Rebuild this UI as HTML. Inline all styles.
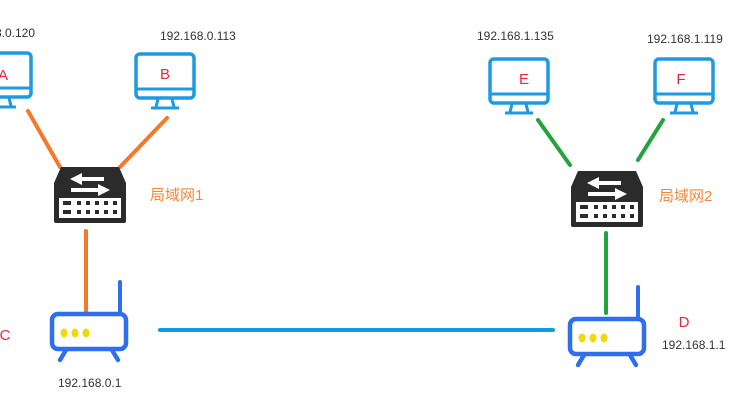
<!DOCTYPE html>
<html><head><meta charset="utf-8"><style>
body{margin:0;background:#fff;width:750px;height:410px;overflow:hidden}
</style></head><body>
<svg width="750" height="410" xmlns="http://www.w3.org/2000/svg" font-family="Liberation Sans, Noto Sans CJK SC, sans-serif">
<defs>
<g id="mon">
<rect x="2" y="2" width="58" height="44" rx="4" fill="#fff" stroke="#1e9be0" stroke-width="3.5"/>
<line x1="2" y1="37" x2="60" y2="37" stroke="#1e9be0" stroke-width="3"/>
<path d="M24 47 L22 55 M38 47 L40 55" stroke="#1e9be0" stroke-width="3"/>
<line x1="17" y1="56" x2="45" y2="56" stroke="#1e9be0" stroke-width="3"/>
</g>
<g id="sw">
<path d="M7 0 H65 L72 16 V54 Q72 56 70 56 H2 Q0 56 0 54 V16 Z" fill="#2b2b2b"/>
<rect x="5" y="31" width="62" height="20" fill="#fff"/>
<path d="M16 12 L28 6 V10 H50 V14 H28 V18 Z" fill="#fff"/>
<path d="M56 23 L44 17 V21 H17 V25 H44 V29 Z" fill="#fff"/>
<g fill="#2b2b2b"><rect x="9" y="34" width="8" height="4"/><rect x="9" y="43" width="8" height="4"/>
<rect x="23" y="34" width="4" height="4"/><rect x="32" y="34" width="4" height="4"/><rect x="41" y="34" width="4" height="4"/><rect x="50" y="34" width="4" height="4"/><rect x="59" y="34" width="4" height="4"/>
<rect x="23" y="43" width="4" height="4"/><rect x="32" y="43" width="4" height="4"/><rect x="41" y="43" width="4" height="4"/><rect x="50" y="43" width="4" height="4"/><rect x="59" y="43" width="4" height="4"/></g>
</g>
<g id="rt">
<line x1="70" y1="0" x2="70" y2="30" stroke="#2f6ef0" stroke-width="4" stroke-linecap="round"/>
<rect x="2" y="32" width="74" height="35" rx="6" fill="#fff" stroke="#2f6ef0" stroke-width="4.5"/>
<path d="M16 68 L10 78 M62 68 L68 78" stroke="#2f6ef0" stroke-width="4.5" stroke-linecap="round"/>
<ellipse cx="14" cy="51" rx="3.5" ry="4.5" fill="#f2d70a"/><ellipse cx="25" cy="51" rx="3.5" ry="4.5" fill="#f2d70a"/><ellipse cx="36" cy="51" rx="3.5" ry="4.5" fill="#f2d70a"/>
</g>
</defs>
<g stroke-width="4" stroke-linecap="round">
<line x1="28" y1="111" x2="60" y2="167" stroke="#f5792a"/>
<line x1="167" y1="118" x2="120" y2="167" stroke="#f5792a"/>
<line x1="86" y1="231" x2="86" y2="312" stroke="#f5792a"/>
<line x1="538" y1="120" x2="570" y2="165" stroke="#22a33c"/>
<line x1="663" y1="120" x2="638" y2="160" stroke="#22a33c"/>
<line x1="606" y1="233" x2="606" y2="313" stroke="#22a33c"/>
<line x1="160" y1="330" x2="553" y2="330" stroke="#0e9ce6"/>
</g>
<use href="#mon" x="-29" y="51"/>
<use href="#mon" x="134" y="52"/>
<use href="#mon" x="488" y="57"/>
<use href="#mon" x="653" y="57"/>
<use href="#sw" x="54" y="167"/>
<use href="#sw" x="571" y="171"/>
<use href="#rt" x="50" y="282"/>
<use href="#rt" x="568" y="287"/>
<g font-size="15" fill="#e8283c" text-anchor="middle">
<text x="3" y="80">A</text><text x="165" y="79">B</text><text x="524" y="84">E</text><text x="681" y="84">F</text>
<text x="5" y="340">C</text><text x="684" y="327">D</text>
</g>
<g font-size="12" fill="#333">
<text x="35" y="37" text-anchor="end">192.168.0.120</text>
<text x="160" y="40">192.168.0.113</text>
<text x="477" y="40">192.168.1.135</text>
<text x="647" y="43">192.168.1.119</text>
<text x="58" y="387">192.168.0.1</text>
<text x="662" y="349">192.168.1.1</text>
</g>
<g font-size="15" fill="#f5873a">
<text x="150" y="200">局域网1</text>
<text x="659" y="201">局域网2</text>
</g>
</svg>
</body></html>
